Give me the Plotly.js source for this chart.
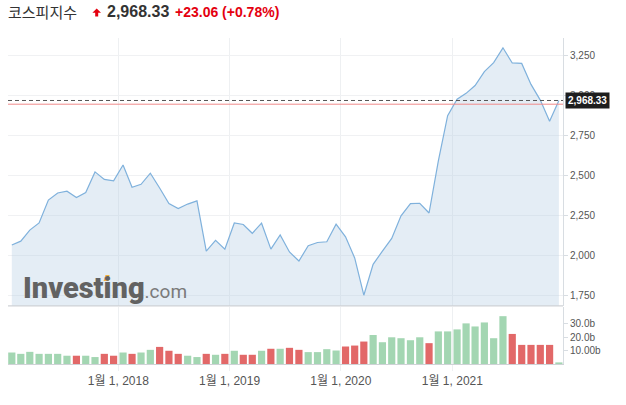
<!DOCTYPE html>
<html>
<head>
<meta charset="utf-8">
<script src="https://cdn.plot.ly/plotly-3.0.1.min.js"></script>
<style>
html,body{margin:0;padding:0;background:#fff;}
#chart{width:626px;height:405px;}
</style>
</head>
<body>
<div id="chart"></div>
<script>
// ---- data ----
const months = [
 '2017-01','2017-02','2017-03','2017-04','2017-05','2017-06','2017-07','2017-08','2017-09','2017-10','2017-11','2017-12',
 '2018-01','2018-02','2018-03','2018-04','2018-05','2018-06','2018-07','2018-08','2018-09','2018-10','2018-11','2018-12',
 '2019-01','2019-02','2019-03','2019-04','2019-05','2019-06','2019-07','2019-08','2019-09','2019-10','2019-11','2019-12',
 '2020-01','2020-02','2020-03','2020-04','2020-05','2020-06','2020-07','2020-08','2020-09','2020-10','2020-11','2020-12',
 '2021-01','2021-02','2021-03','2021-04','2021-05','2021-06','2021-07','2021-08','2021-09','2021-10','2021-11','2021-12'
];
const closes = [
 2067.57, 2091.64, 2160.23, 2205.44, 2347.38, 2391.79, 2402.71, 2363.19, 2394.47, 2523.43, 2476.37, 2467.49,
 2566.46, 2427.36, 2445.85, 2515.38, 2423.01, 2326.13, 2295.26, 2322.88, 2343.07, 2029.69, 2096.86, 2041.04,
 2204.85, 2195.44, 2140.67, 2203.59, 2041.74, 2130.62, 2024.55, 1967.79, 2063.05, 2083.48, 2087.96, 2197.67,
 2119.01, 1987.01, 1754.64, 1947.56, 2029.60, 2108.33, 2249.37, 2326.17, 2327.89, 2267.15, 2591.34, 2873.47,
 2976.21, 3012.95, 3061.42, 3147.86, 3203.92, 3296.68, 3202.32, 3199.27, 3068.82, 2970.68, 2839.01, 2968.33
];
const priorClose = 2026.46; // close before first month
const volumes = [
 8.6, 7.6, 9.1, 7.6, 7.6, 7.6, 6.2, 6.2, 6.2, 5.2, 7.6, 6.2,
 8.6, 7.6, 8.6, 10.6, 12.8, 9.9, 7.6, 6.2, 5.2, 7.6, 6.9, 7.6,
 9.9, 6.9, 6.9, 9.9, 11.4, 11.4, 12.1, 10.6, 8.9, 8.9, 11.1, 10.1,
 13.1, 13.8, 16.8, 21.7, 16.3, 20.0, 19.3, 17.8, 20.0, 15.6, 24.4, 24.4,
 25.9, 30.4, 28.1, 31.1, 19.3, 35.8, 22.5, 14.3, 14.3, 14.3, 14.3, 1.2
];
const lastPrice = 2968.33;
const prevClosePrice = 2945.27;
const lastPriceText = '2,968.33';
const changeText = '+23.06 (+0.78%)';
const indexName = '코스피지수';
const priceTicks = [1750, 2000, 2250, 2500, 2750, 3000, 3250];
const priceTickText = ['1,750', '2,000', '2,250', '2,500', '2,750', '3,000', '3,250'];
const volTicks = [10, 20, 30];
const volTickText = ['10.00b', '20.0b', '30.0b'];
const dateTicks = ['2018-01-01', '2019-01-01', '2020-01-01', '2021-01-01'];
const dateTickText = ['1월 1, 2018', '1월 1, 2019', '1월 1, 2020', '1월 1, 2021'];

// ---- layout helpers (pixel -> paper) ----
const L = 8, R = 563, T = 38, B = 364;
const px = x => (x - L) / (R - L);
const py = y => (B - y) / (B - T);

const GREEN = '#a3d6b2', RED = '#e26868';
const barColors = closes.map((c, i) => c >= (i ? closes[i - 1] : priorClose) ? GREEN : RED);

const FONT = 'Liberation Sans, Arial, "Noto Sans CJK KR", sans-serif';

const price = {
  type: 'scatter', mode: 'lines', x: months, y: closes,
  xperiod: 'M1', xperiodalignment: 'middle',
  line: {color: '#7fb1dc', width: 1.2},
  fill: 'tozeroy', fillcolor: 'rgba(178,204,226,0.35)',
  xaxis: 'x', yaxis: 'y', hoverinfo: 'skip'
};
const vol = {
  type: 'bar', x: months, y: volumes,
  xperiod: 'M1', xperiodalignment: 'middle',
  marker: {color: barColors, line: {width: 0}},
  xaxis: 'x', yaxis: 'y2', hoverinfo: 'skip'
};

const toPath = pts => 'M' + pts.map(p => px(p[0]) + ',' + py(p[1])).join(' L') + ' Z';
const arrowPath = toPath([[96.7,8.5],[101,12.8],[98.2,12.8],[98.2,16.5],[95.2,16.5],[95.2,12.8],[92.4,12.8]]);
const dotPath = toPath([[103.5,281],[108.5,281],[109.5,275],[105.5,275]]);

const layout = {
  width: 626, height: 405,
  margin: {l: L, r: 626 - R, t: T, b: 405 - B, pad: 0},
  paper_bgcolor: '#fff', plot_bgcolor: '#fff',
  showlegend: false, bargap: 0.2,
  font: {family: FONT, color: '#555', size: 10},
  xaxis: {
    type: 'date', range: ['2017-01-04', '2021-12-30'], anchor: 'y2',
    tickvals: dateTicks, ticktext: dateTickText,
    tickfont: {size: 12, color: '#555', family: FONT},
    showgrid: true, gridcolor: '#eef0f2', gridwidth: 1,
    ticks: 'outside', ticklen: 6, tickcolor: '#eef0f2',
    showline: true, linecolor: '#cfd2d6', linewidth: 1,
    zeroline: false, fixedrange: true
  },
  yaxis: {
    domain: [0.178, 1], range: [1687.7, 3357.8], side: 'right', anchor: 'x',
    tickvals: priceTicks, ticktext: priceTickText,
    tickfont: {size: 10, color: '#555'},
    showgrid: true, gridcolor: '#f0f1f3', zeroline: false,
    ticks: 'outside', ticklen: 4, tickcolor: '#d8dde2',
    showline: true, linecolor: '#d8dde2', linewidth: 1
  },
  yaxis2: {
    domain: [0, 0.175], range: [0, 42.7], side: 'right', anchor: 'x',
    tickvals: volTicks, ticktext: volTickText,
    tickfont: {size: 10, color: '#555'},
    showgrid: false, zeroline: false,
    ticks: 'outside', ticklen: 4, tickcolor: '#d8dde2',
    showline: true, linecolor: '#d8dde2', linewidth: 1
  },
  shapes: [
    {type: 'line', xref: 'paper', yref: 'y domain', x0: 0, x1: 1, y0: 0, y1: 0,
     line: {color: '#cfd2d6', width: 1.2}},
    {type: 'line', xref: 'paper', yref: 'y', x0: 0, x1: 1, y0: prevClosePrice, y1: prevClosePrice,
     line: {color: '#f08a8a', width: 1}},
    {type: 'line', xref: 'paper', yref: 'y', x0: 0, x1: 1, y0: lastPrice, y1: lastPrice,
     line: {color: '#555', width: 1, dash: '4px,3px'}},
    {type: 'path', xref: 'paper', yref: 'paper', path: arrowPath,
     fillcolor: '#e4000f', line: {width: 0}}
  ],
  annotations: [
    {xref: 'paper', yref: 'paper', x: px(6), y: py(11.5), xanchor: 'left', yanchor: 'middle',
     text: indexName, showarrow: false,
     font: {family: '"Noto Sans CJK KR", sans-serif', size: 15, color: '#333'}},
    {xref: 'paper', yref: 'paper', x: px(104.5), y: py(11.5), xanchor: 'left', yanchor: 'middle',
     text: '<b>' + lastPriceText + '</b>', showarrow: false,
     font: {family: FONT, size: 16, color: '#333'}},
    {xref: 'paper', yref: 'paper', x: px(172.5), y: py(12), xanchor: 'left', yanchor: 'middle',
     text: '<b>' + changeText + '</b>', showarrow: false,
     font: {family: FONT, size: 14, color: '#e4000f'}},
    {xref: 'paper', yref: 'y', x: 1, xshift: 2, y: lastPrice, xanchor: 'left', yanchor: 'middle',
     text: '<b>' + lastPriceText + '</b>', showarrow: false,
     bgcolor: '#1e1e1e', borderpad: 2,
     font: {family: FONT, size: 10, color: '#fff'}},
    {xref: 'paper', yref: 'paper', x: px(21), y: py(288), xanchor: 'left', yanchor: 'middle',
     text: 'Investing<span style="font-size:19px;font-weight:400;fill:#7a7a7a">.com</span>', showarrow: false,
     font: {family: 'Roboto, Liberation Sans, sans-serif', size: 29, weight: 900, color: '#626262'}}
  ]
};

Plotly.newPlot('chart', [price, vol], layout, {displayModeBar: false, staticPlot: true}).then(gd => {
  // orange accent on the watermark's "i" (decoration only)
  Plotly.relayout(gd, {shapes: layout.shapes.concat([{type: 'path', xref: 'paper', yref: 'paper',
    path: dotPath, fillcolor: '#f2b33d', line: {width: 0}, layer: 'above'}])});
});
</script>
</body>
</html>
